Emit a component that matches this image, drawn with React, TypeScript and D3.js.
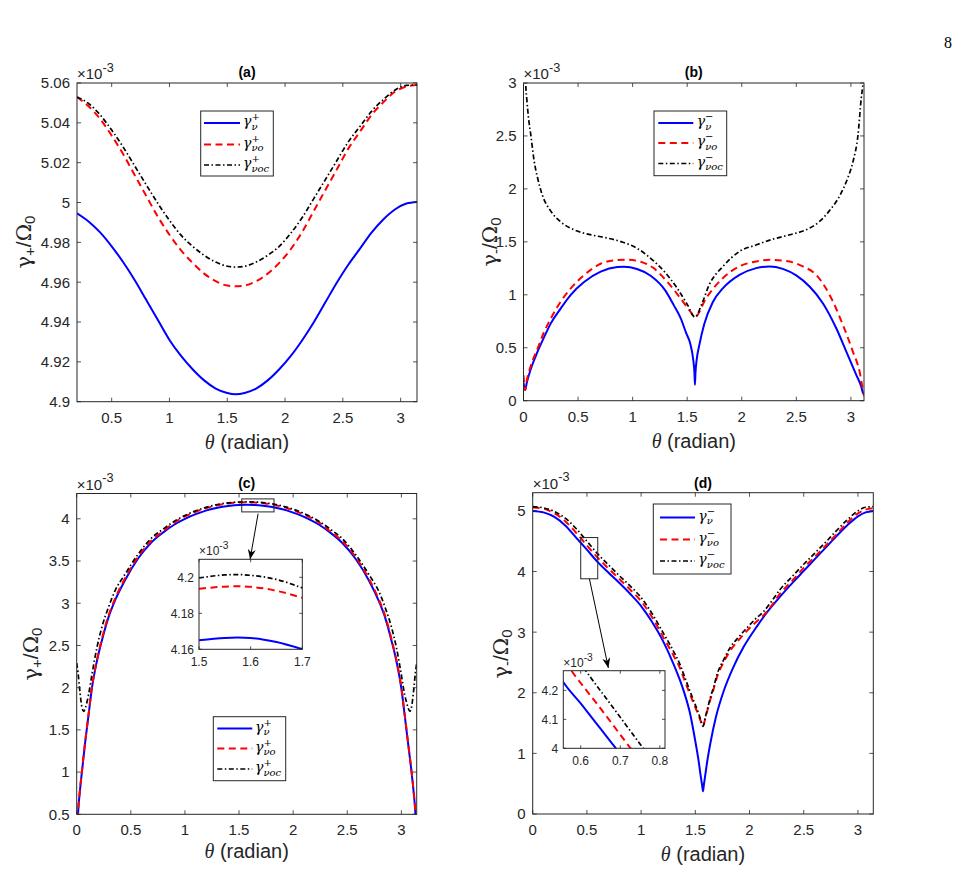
import React from "react";
import * as d3 from "d3";

type Pt = [number, number];
type Box = { x0: number; x1: number; y0: number; y1: number };

const BLUE = "#0000ff";
const RED = "#ff0000";
const BLACK = "#000000";
const INK = "#262626";
const SANS = "Liberation Sans, Arial, Helvetica, sans-serif";
const SERIF = "Liberation Serif, DejaVu Serif, serif";
const MATH = "DejaVu Serif, Liberation Serif, serif";
const DASH_RED = "7 4.5";
const DASH_BLACK = "5 2.5 1.5 2.5";

// ---------- panel (a) ----------
const A_XTICKS = [0.5, 1, 1.5, 2, 2.5, 3];
const A_YTICKS = [4.9, 4.92, 4.94, 4.96, 4.98, 5, 5.02, 5.04, 5.06];
const A_BLUE: Pt[] = [
  [0.2, 4.9946], [0.3, 4.9905], [0.4, 4.985], [0.5, 4.978], [0.6, 4.97], [0.7, 4.961],
  [0.8, 4.951], [0.9, 4.941], [1.0, 4.931], [1.1, 4.923], [1.2, 4.9163], [1.3, 4.9107],
  [1.4, 4.9066], [1.5, 4.9044], [1.5708, 4.9038], [1.65, 4.9044], [1.75, 4.9066], [1.85, 4.9107],
  [1.95, 4.9163], [2.05, 4.923], [2.15, 4.931], [2.25, 4.94], [2.35, 4.95], [2.45, 4.96],
  [2.55, 4.969], [2.65, 4.977], [2.75, 4.985], [2.85, 4.9915], [2.95, 4.9965], [3.05, 4.9995],
  [3.1416, 5.0003],
];
const A_RED: Pt[] = [
  [0.2, 5.053], [0.3, 5.0483], [0.4, 5.042], [0.5, 5.0336], [0.6, 5.0242], [0.7, 5.0137],
  [0.8, 5.0032], [0.9, 4.9928], [1.0, 4.9838], [1.1, 4.976], [1.2, 4.9697], [1.3, 4.9643],
  [1.4, 4.9605], [1.5, 4.9583], [1.5708, 4.958], [1.65, 4.9583], [1.75, 4.9605], [1.85, 4.9643],
  [1.95, 4.9697], [2.05, 4.9766], [2.15, 4.9854], [2.25, 4.9959], [2.35, 5.0064], [2.45, 5.0168],
  [2.55, 5.0273], [2.65, 5.0357], [2.75, 5.0441], [2.85, 5.0503], [2.95, 5.0556], [3.05, 5.0582],
  [3.1416, 5.059],
];
const A_BLACK: Pt[] = [
  [0.2, 5.053], [0.3, 5.0497], [0.4, 5.044], [0.5, 5.0364], [0.6, 5.0278], [0.7, 5.0183],
  [0.8, 5.0088], [0.9, 4.9995], [1.0, 4.991], [1.1, 4.9836], [1.2, 4.978], [1.3, 4.9735],
  [1.4, 4.9701], [1.5, 4.968], [1.5708, 4.9676], [1.65, 4.968], [1.75, 4.9701], [1.85, 4.9735],
  [1.95, 4.978], [2.05, 4.9846], [2.15, 4.9926], [2.25, 5.0021], [2.35, 5.0116], [2.45, 5.0212],
  [2.55, 5.0307], [2.65, 5.0383], [2.75, 5.0459], [2.85, 5.0517], [2.95, 5.0564], [3.05, 5.0588],
  [3.1416, 5.059],
];

// ---------- panel (b) ----------
const B_XTICKS = [0, 0.5, 1, 1.5, 2, 2.5, 3];
const B_YTICKS = [0, 0.5, 1, 1.5, 2, 2.5, 3];
const B_BLUE: Pt[] = [
  [0.0, 0.17], [0.015, 0.1], [0.03, 0.17], [0.067, 0.3], [0.128, 0.46], [0.189, 0.6],
  [0.25, 0.73], [0.34, 0.87], [0.433, 1.0], [0.555, 1.12], [0.707, 1.218], [0.86, 1.262],
  [0.92, 1.265], [1.04, 1.243], [1.165, 1.18], [1.3, 1.04], [1.378, 0.9], [1.44, 0.78],
  [1.49, 0.64], [1.53, 0.53], [1.556, 0.38], [1.566, 0.27], [1.5708, 0.15], [1.576, 0.27],
  [1.586, 0.38], [1.612, 0.53], [1.655, 0.72], [1.734, 0.93], [1.826, 1.06], [1.979, 1.188],
  [2.132, 1.252], [2.254, 1.268], [2.376, 1.245], [2.499, 1.183], [2.621, 1.078], [2.743, 0.921],
  [2.866, 0.684], [2.958, 0.464], [3.05, 0.242], [3.095, 0.132], [3.11, 0.075], [3.12, 0.06],
];
const B_RED: Pt[] = [
  [0.0, 0.24], [0.015, 0.1], [0.03, 0.19], [0.067, 0.33], [0.128, 0.49], [0.189, 0.65],
  [0.25, 0.776], [0.34, 0.934], [0.433, 1.06], [0.555, 1.186], [0.707, 1.293], [0.86, 1.328],
  [0.95, 1.331], [1.073, 1.312], [1.195, 1.25], [1.317, 1.123], [1.44, 0.965], [1.53, 0.84],
  [1.5708, 0.79], [1.673, 0.968], [1.826, 1.157], [1.979, 1.268], [2.132, 1.315], [2.254, 1.33],
  [2.407, 1.32], [2.56, 1.268], [2.682, 1.188], [2.805, 0.999], [2.927, 0.715], [3.018, 0.464],
  [3.08, 0.274], [3.117, 0.069], [3.125, 0.04],
];
const B_BLACK: Pt[] = [
  [0.012, 3.3], [0.02, 3.0], [0.03, 2.85], [0.045, 2.68], [0.067, 2.51], [0.098, 2.26],
  [0.13, 2.1], [0.17, 1.95], [0.25, 1.79], [0.34, 1.69], [0.46, 1.615], [0.6, 1.57],
  [0.75, 1.54], [0.9, 1.5], [1.04, 1.44], [1.17, 1.34], [1.29, 1.22], [1.41, 1.06],
  [1.5, 0.91], [1.5708, 0.79], [1.64, 0.93], [1.7, 1.09], [1.83, 1.27], [1.98, 1.41],
  [2.13, 1.47], [2.285, 1.525], [2.44, 1.567], [2.59, 1.614], [2.71, 1.69], [2.8, 1.79],
  [2.9, 1.94], [2.97, 2.1], [3.02, 2.26], [3.065, 2.51], [3.095, 2.86], [3.11, 3.0], [3.12, 3.2],
];

// ---------- panel (c) ----------
const C_XTICKS = [0, 0.5, 1, 1.5, 2, 2.5, 3];
const C_YTICKS = [0.5, 1, 1.5, 2, 2.5, 3, 3.5, 4];
const C_BLUE: Pt[] = [
  [0.005, 0.3], [0.012, 0.5], [0.03, 0.78], [0.048, 1.0], [0.079, 1.36], [0.11, 1.68],
  [0.14, 1.99], [0.186, 2.31], [0.231, 2.55], [0.293, 2.83], [0.353, 3.03], [0.445, 3.27],
  [0.567, 3.53], [0.689, 3.72], [0.8, 3.84], [0.9, 3.93], [1.0, 4.0], [1.1, 4.055],
  [1.2, 4.1], [1.3, 4.132], [1.4, 4.153], [1.5, 4.165], [1.5708, 4.1665], [1.64, 4.165],
  [1.74, 4.153], [1.84, 4.132], [1.94, 4.1], [2.04, 4.055], [2.14, 4.0], [2.24, 3.93],
  [2.34, 3.84], [2.45, 3.72], [2.575, 3.53], [2.7, 3.27], [2.79, 3.03], [2.85, 2.83],
  [2.91, 2.55], [2.955, 2.31], [3.0, 1.99], [3.03, 1.68], [3.06, 1.36], [3.094, 1.0],
  [3.112, 0.78], [3.13, 0.5], [3.137, 0.3],
];
const C_RED: Pt[] = [
  [0.005, 0.3], [0.012, 0.5], [0.03, 0.79], [0.048, 1.01], [0.079, 1.37], [0.11, 1.69],
  [0.14, 2.0], [0.186, 2.32], [0.231, 2.57], [0.293, 2.85], [0.353, 3.05], [0.445, 3.29],
  [0.567, 3.55], [0.689, 3.74], [0.8, 3.855], [0.9, 3.955], [1.0, 4.028], [1.1, 4.083],
  [1.2, 4.128], [1.3, 4.161], [1.4, 4.182], [1.5, 4.1935], [1.5708, 4.195], [1.64, 4.1935],
  [1.74, 4.182], [1.84, 4.161], [1.94, 4.128], [2.04, 4.083], [2.14, 4.028], [2.24, 3.955],
  [2.34, 3.855], [2.45, 3.74], [2.575, 3.55], [2.7, 3.29], [2.79, 3.05], [2.85, 2.85],
  [2.91, 2.57], [2.955, 2.32], [3.0, 2.0], [3.03, 1.69], [3.06, 1.37], [3.094, 1.01],
  [3.112, 0.79], [3.13, 0.5], [3.137, 0.3],
];
const C_BLACK: Pt[] = [
  [0.0, 2.29], [0.012, 2.18], [0.03, 1.95], [0.048, 1.77], [0.064, 1.72], [0.08, 1.76],
  [0.095, 1.83], [0.11, 1.92], [0.14, 2.15], [0.186, 2.47], [0.231, 2.71], [0.293, 2.95],
  [0.353, 3.145], [0.445, 3.34], [0.567, 3.58], [0.689, 3.77], [0.8, 3.88], [0.9, 3.97],
  [1.0, 4.04], [1.1, 4.095], [1.2, 4.138], [1.3, 4.17], [1.4, 4.189], [1.5, 4.1996],
  [1.5708, 4.2015], [1.64, 4.1996], [1.74, 4.189], [1.84, 4.17], [1.94, 4.138], [2.04, 4.095],
  [2.14, 4.04], [2.24, 3.97], [2.34, 3.88], [2.45, 3.77], [2.575, 3.58], [2.7, 3.34],
  [2.79, 3.145], [2.85, 2.95], [2.91, 2.71], [2.955, 2.47], [3.0, 2.15], [3.03, 1.92],
  [3.047, 1.83], [3.062, 1.76], [3.078, 1.72], [3.094, 1.77], [3.112, 1.95], [3.13, 2.18],
  [3.1416, 2.29],
];
// inset of (c)
const CI_XTICKS = [1.5, 1.6, 1.7];
const CI_YTICKS = [4.16, 4.18, 4.2];
const CI_BLUE: Pt[] = [[1.5, 4.165], [1.55, 4.1663], [1.575, 4.1665], [1.6, 4.1663], [1.65, 4.164], [1.7, 4.16]];
const CI_RED: Pt[] = [[1.5, 4.1936], [1.55, 4.1948], [1.575, 4.195], [1.6, 4.1947], [1.65, 4.1925], [1.7, 4.1886]];
const CI_BLACK: Pt[] = [[1.5, 4.1996], [1.55, 4.2013], [1.575, 4.2015], [1.6, 4.2011], [1.65, 4.1988], [1.7, 4.1941]];

// ---------- panel (d) ----------
const D_XTICKS = [0, 0.5, 1, 1.5, 2, 2.5, 3];
const D_YTICKS = [0, 1, 2, 3, 4, 5];
const D_BLUE: Pt[] = [
  [0, 5.0], [0.1, 4.975], [0.2, 4.9], [0.3, 4.76], [0.4, 4.56], [0.5, 4.36], [0.6, 4.155],
  [0.7, 3.98], [0.8, 3.81], [0.9, 3.63], [1.0, 3.43], [1.1, 3.17], [1.2, 2.86], [1.3, 2.47],
  [1.36, 2.2], [1.4, 1.99], [1.45, 1.67], [1.5, 1.2], [1.53, 0.88], [1.55, 0.62], [1.563, 0.47],
  [1.5708, 0.375], [1.578, 0.47], [1.59, 0.62], [1.61, 0.87], [1.64, 1.18], [1.69, 1.6],
  [1.76, 2.02], [1.85, 2.42], [1.95, 2.77], [2.07, 3.1], [2.15, 3.3], [2.28, 3.58], [2.4, 3.82],
  [2.5, 4.01], [2.6, 4.2], [2.7, 4.39], [2.8, 4.58], [2.9, 4.76], [3.0, 4.91], [3.07, 4.975],
  [3.1416, 5.0],
];
const D_RED: Pt[] = [
  [0, 5.055], [0.1, 5.035], [0.2, 4.96], [0.3, 4.83], [0.4, 4.64], [0.5, 4.43], [0.6, 4.226],
  [0.7, 4.047], [0.8, 3.875], [0.9, 3.7], [1.0, 3.51], [1.1, 3.25], [1.2, 2.93], [1.3, 2.61],
  [1.36, 2.4], [1.4, 2.21], [1.45, 1.98], [1.5, 1.76], [1.53, 1.63], [1.55, 1.53], [1.5708, 1.45],
  [1.59, 1.56], [1.61, 1.7], [1.637, 1.88], [1.67, 2.07], [1.7, 2.26], [1.76, 2.5], [1.82, 2.69],
  [1.9, 2.87], [1.976, 3.02], [2.05, 3.15], [2.13, 3.28], [2.2, 3.43], [2.28, 3.63], [2.4, 3.86],
  [2.5, 4.06], [2.6, 4.24], [2.7, 4.42], [2.8, 4.61], [2.9, 4.8], [3.0, 4.96], [3.07, 5.02],
  [3.1416, 5.045],
];
const D_BLACK: Pt[] = [
  [0, 5.07], [0.1, 5.05], [0.2, 4.99], [0.3, 4.88], [0.4, 4.71], [0.5, 4.5], [0.6, 4.29],
  [0.7, 4.107], [0.8, 3.93], [0.9, 3.76], [1.0, 3.57], [1.1, 3.31], [1.2, 3.0], [1.3, 2.68],
  [1.36, 2.46], [1.4, 2.27], [1.45, 2.03], [1.5, 1.8], [1.53, 1.66], [1.55, 1.55], [1.5708, 1.447],
  [1.59, 1.58], [1.61, 1.72], [1.637, 1.91], [1.67, 2.1], [1.7, 2.3], [1.76, 2.54], [1.82, 2.74],
  [1.9, 2.92], [1.976, 3.07], [2.05, 3.21], [2.13, 3.34], [2.2, 3.5], [2.28, 3.7], [2.4, 3.93],
  [2.5, 4.12], [2.6, 4.3], [2.7, 4.48], [2.8, 4.67], [2.9, 4.85], [3.0, 5.0], [3.07, 5.06],
  [3.1416, 5.07],
];
// inset of (d)
const DI_XTICKS = [0.6, 0.7, 0.8];
const DI_YTICKS = [4, 4.1, 4.2];
const DI_BLUE: Pt[] = [[0.54, 4.265], [0.55, 4.241], [0.6, 4.155], [0.65, 4.068], [0.689, 4.0], [0.72, 3.95]];
const DI_RED: Pt[] = [[0.56, 4.3], [0.577, 4.267], [0.65, 4.138], [0.726, 4.0], [0.76, 3.94]];
const DI_BLACK: Pt[] = [[0.59, 4.31], [0.613, 4.267], [0.7, 4.107], [0.758, 4.0], [0.79, 3.94]];

// zoom markers and arrows, in main-axes data units
const C_ZOOM_RECT = { x0: 1.525, x1: 1.823, y0: 4.082, y1: 4.236 };
const C_ARROW: Pt[] = [[1.676, 4.06], [1.602, 3.52]];
const D_ZOOM_RECT = { x0: 0.443, x1: 0.6, y0: 3.88, y1: 4.56 };
const D_ARROW: Pt[] = [[0.523, 3.88], [0.698, 2.41]];

type Series = { pts: Pt[]; color: string; dash?: string; width: number };
const trio = (b: Pt[], r: Pt[], k: Pt[]): Series[] => [
  { pts: b, color: BLUE, width: 2 },
  { pts: r, color: RED, dash: DASH_RED, width: 2 },
  { pts: k, color: BLACK, dash: DASH_BLACK, width: 1.7 },
];

type PlotProps = {
  id: string;
  box: Box;
  xd: [number, number];
  yd: [number, number];
  xt: number[];
  yt: number[];
  series: Series[];
  tick: number;
  font: number;
  xLabOff: number;
  yLabOff: number;
  expFont: number;
  children?: (x: d3.ScaleLinear<number, number>, y: d3.ScaleLinear<number, number>) => React.ReactNode;
};

function Plot({ id, box, xd, yd, xt, yt, series, tick, font, xLabOff, yLabOff, expFont, children }: PlotProps) {
  const x = d3.scaleLinear().domain(xd).range([box.x0, box.x1]);
  const y = d3.scaleLinear().domain(yd).range([box.y1, box.y0]);
  const line = d3
    .line<Pt>()
    .x((d) => x(d[0]))
    .y((d) => y(d[1]))
    .curve(d3.curveMonotoneX);
  const w = box.x1 - box.x0;
  const h = box.y1 - box.y0;
  return (
    <g>
      <defs>
        <clipPath id={id}>
          <rect x={box.x0} y={box.y0} width={w} height={h} />
        </clipPath>
      </defs>
      <rect x={box.x0} y={box.y0} width={w} height={h} fill="#fff" />
      <g clipPath={`url(#${id})`}>
        {series.map((s, i) => (
          <path
            key={i}
            d={line(s.pts) || ""}
            fill="none"
            stroke={s.color}
            strokeWidth={s.width}
            strokeDasharray={s.dash}
          />
        ))}
      </g>
      <g stroke={INK} strokeWidth={0.8}>
        {xt.map((t) => (
          <g key={`x${t}`}>
            <line x1={x(t)} x2={x(t)} y1={box.y1} y2={box.y1 - tick} />
            <line x1={x(t)} x2={x(t)} y1={box.y0} y2={box.y0 + tick} />
          </g>
        ))}
        {yt.map((t) => (
          <g key={`y${t}`}>
            <line x1={box.x0} x2={box.x0 + tick} y1={y(t)} y2={y(t)} />
            <line x1={box.x1} x2={box.x1 - tick} y1={y(t)} y2={y(t)} />
          </g>
        ))}
      </g>
      <rect x={box.x0} y={box.y0} width={w} height={h} fill="none" stroke={INK} strokeWidth={1} />
      <g fontFamily={SANS} fontSize={font} fill={INK}>
        {xt.map((t) => (
          <text key={`lx${t}`} x={x(t)} y={box.y1 + xLabOff} textAnchor="middle">
            {String(t)}
          </text>
        ))}
        {yt.map((t) => (
          <text key={`ly${t}`} x={box.x0 - yLabOff} y={y(t)} dy="0.36em" textAnchor="end">
            {String(t)}
          </text>
        ))}
        <text x={box.x0} y={box.y0 - 4} fontSize={expFont}>
          ×10
          <tspan dy={-expFont * 0.5} fontSize={expFont * 0.85}>
            -3
          </tspan>
        </text>
      </g>
      {children ? children(x, y) : null}
    </g>
  );
}

type LegendProps = { box: Box; rows: number[]; lx0: number; lx1: number; tx: number; sign: string };
const SUBS = ["ν", "νo", "νoc"];
function Legend({ box, rows, lx0, lx1, tx, sign }: LegendProps) {
  const styles = [
    { c: BLUE, d: undefined, w: 2 },
    { c: RED, d: DASH_RED, w: 2 },
    { c: BLACK, d: DASH_BLACK, w: 1.7 },
  ];
  return (
    <g>
      <rect x={box.x0} y={box.y0} width={box.x1 - box.x0} height={box.y1 - box.y0} fill="#fff" stroke={INK} strokeWidth={1} />
      {rows.map((ry, i) => (
        <g key={i}>
          <line x1={lx0} x2={lx1} y1={ry} y2={ry} stroke={styles[i].c} strokeWidth={styles[i].w} strokeDasharray={styles[i].d} />
          <text x={tx} y={ry + 3} fontFamily={MATH} fontSize={14} fill={BLACK}>
            <tspan fontStyle="italic">γ</tspan>
            <tspan dy={-6} fontSize={10}>
              {sign}
            </tspan>
            <tspan x={tx + 8.5} dy={9.5} fontSize={10} fontStyle="italic">
              {SUBS[i]}
            </tspan>
          </text>
        </g>
      ))}
    </g>
  );
}

function YLabel({ x, cy, sub }: { x: number; cy: number; sub: string }) {
  return (
    <text transform={`translate(${x},${cy}) rotate(-90)`} textAnchor="middle" fontFamily={SANS} fontSize={21} fill={INK}>
      <tspan fontFamily={MATH}>γ</tspan>
      <tspan dy={4} fontSize={15}>
        {sub}
      </tspan>
      <tspan dy={-4}>/</tspan>
      <tspan fontFamily={MATH}>Ω</tspan>
      <tspan dy={4} fontSize={15}>
        0
      </tspan>
    </text>
  );
}

function XLabel({ cx, y }: { cx: number; y: number }) {
  return (
    <text x={cx} y={y} textAnchor="middle" fontFamily={SANS} fontSize={20} fill={INK}>
      <tspan fontFamily={SERIF} fontStyle="italic">
        θ
      </tspan>
      <tspan> (radian)</tspan>
    </text>
  );
}

function Title({ cx, y, label }: { cx: number; y: number; label: string }) {
  return (
    <text x={cx} y={y} textAnchor="middle" fontFamily={SANS} fontWeight="bold" fontSize={14} fill={BLACK}>
      {label}
    </text>
  );
}

const BOX_A: Box = { x0: 77, x1: 417, y0: 83, y1: 401.7 };
const BOX_B: Box = { x0: 523.5, x1: 864, y0: 83, y1: 400.7 };
const BOX_C: Box = { x0: 76.7, x1: 416.7, y0: 493.5, y1: 814.3 };
const BOX_D: Box = { x0: 532.7, x1: 873.3, y0: 492.7, y1: 814 };
const BOX_CI: Box = { x0: 199, x1: 302.3, y0: 559.3, y1: 649.3 };
const BOX_DI: Box = { x0: 563.3, x1: 665, y0: 670.7, y1: 748.3 };

function Marker({ x, y, r, arrow }: { x: any; y: any; r: Box; arrow: Pt[] }) {
  return (
    <g>
      <rect
        x={x(r.x0)}
        y={y(r.y1)}
        width={x(r.x1) - x(r.x0)}
        height={y(r.y0) - y(r.y1)}
        fill="none"
        stroke={INK}
        strokeWidth={1}
      />
      <line
        x1={x(arrow[0][0])}
        y1={y(arrow[0][1])}
        x2={x(arrow[1][0])}
        y2={y(arrow[1][1])}
        stroke={BLACK}
        strokeWidth={1}
        markerEnd="url(#arrowhead)"
      />
    </g>
  );
}

export default function App() {
  return (
    <svg width={966} height={873} style={{ position: "absolute", left: 0, top: 0, background: "#fff" }}>
      <defs>
        <marker id="arrowhead" viewBox="0 0 10 8" refX={10} refY={4} markerWidth={10} markerHeight={8} markerUnits="userSpaceOnUse" orient="auto">
          <path d="M0,0 L10,4 L0,8 L3,4 Z" fill={BLACK} />
        </marker>
      </defs>
      <rect width={966} height={873} fill="#fff" />
      <text x={948} y={48} fontFamily={SERIF} fontSize={16} fill={BLACK} textAnchor="middle">
        8
      </text>

      {/* (a) */}
      <Plot id="ca" box={BOX_A} xd={[0.2, Math.PI]} yd={[4.9, 5.06]} xt={A_XTICKS} yt={A_YTICKS}
        series={trio(A_BLUE, A_RED, A_BLACK)} tick={4} font={15} xLabOff={21} yLabOff={7} expFont={15} />
      <Legend box={{ x0: 200.7, x1: 273.3, y0: 111, y1: 176 }} rows={[123, 144.5, 165]} lx0={204} lx1={240} tx={243} sign="+" />
      <Title cx={247} y={77} label="(a)" />
      <YLabel x={31} cy={242} sub="+" />
      <XLabel cx={247} y={449} />

      {/* (b) */}
      <Plot id="cb" box={BOX_B} xd={[0, 3.12]} yd={[0, 3]} xt={B_XTICKS} yt={B_YTICKS}
        series={trio(B_BLUE, B_RED, B_BLACK)} tick={4} font={15} xLabOff={21} yLabOff={7} expFont={15} />
      <Legend box={{ x0: 654, x1: 726.7, y0: 111, y1: 175.7 }} rows={[123, 143, 163.5]} lx0={658.3} lx1={693.3} tx={696.7} sign="−" />
      <Title cx={693.8} y={77} label="(b)" />
      <YLabel x={497} cy={242} sub="-" />
      <XLabel cx={693.8} y={448} />

      {/* (c) */}
      <Plot id="cc" box={BOX_C} xd={[0, Math.PI]} yd={[0.5, 4.3]} xt={C_XTICKS} yt={C_YTICKS}
        series={trio(C_BLUE, C_RED, C_BLACK)} tick={4} font={15} xLabOff={21} yLabOff={7} expFont={15}>
        {(x, y) => <Marker x={x} y={y} r={C_ZOOM_RECT} arrow={C_ARROW} />}
      </Plot>
      <Plot id="cci" box={BOX_CI} xd={[1.5, 1.7]} yd={[4.16, 4.21]} xt={CI_XTICKS} yt={CI_YTICKS}
        series={trio(CI_BLUE, CI_RED, CI_BLACK)} tick={3} font={12} xLabOff={17} yLabOff={5} expFont={12} />
      <Legend box={{ x0: 213.3, x1: 285.7, y0: 716.7, y1: 780.7 }} rows={[728.5, 748.5, 769]} lx0={217.3} lx1={252.3} tx={255} sign="+" />
      <Title cx={246.7} y={488} label="(c)" />
      <YLabel x={38} cy={654} sub="+" />
      <XLabel cx={246.7} y={858} />

      {/* (d) */}
      <Plot id="cd" box={BOX_D} xd={[0, Math.PI]} yd={[0, 5.3]} xt={D_XTICKS} yt={D_YTICKS}
        series={trio(D_BLUE, D_RED, D_BLACK)} tick={4} font={15} xLabOff={21} yLabOff={7} expFont={15}>
        {(x, y) => <Marker x={x} y={y} r={D_ZOOM_RECT} arrow={D_ARROW} />}
      </Plot>
      <Plot id="cdi" box={BOX_DI} xd={[0.556, 0.813]} yd={[4, 4.268]} xt={DI_XTICKS} yt={DI_YTICKS}
        series={trio(DI_BLUE, DI_RED, DI_BLACK)} tick={3} font={12} xLabOff={17} yLabOff={5} expFont={12} />
      <Legend box={{ x0: 653.3, x1: 731, y0: 504, y1: 574 }} rows={[517.5, 539.5, 561]} lx0={660} lx1={695} tx={698.3} sign="−" />
      <Title cx={703} y={488} label="(d)" />
      <YLabel x={508} cy={654} sub="-" />
      <XLabel cx={703} y={861} />
    </svg>
  );
}
